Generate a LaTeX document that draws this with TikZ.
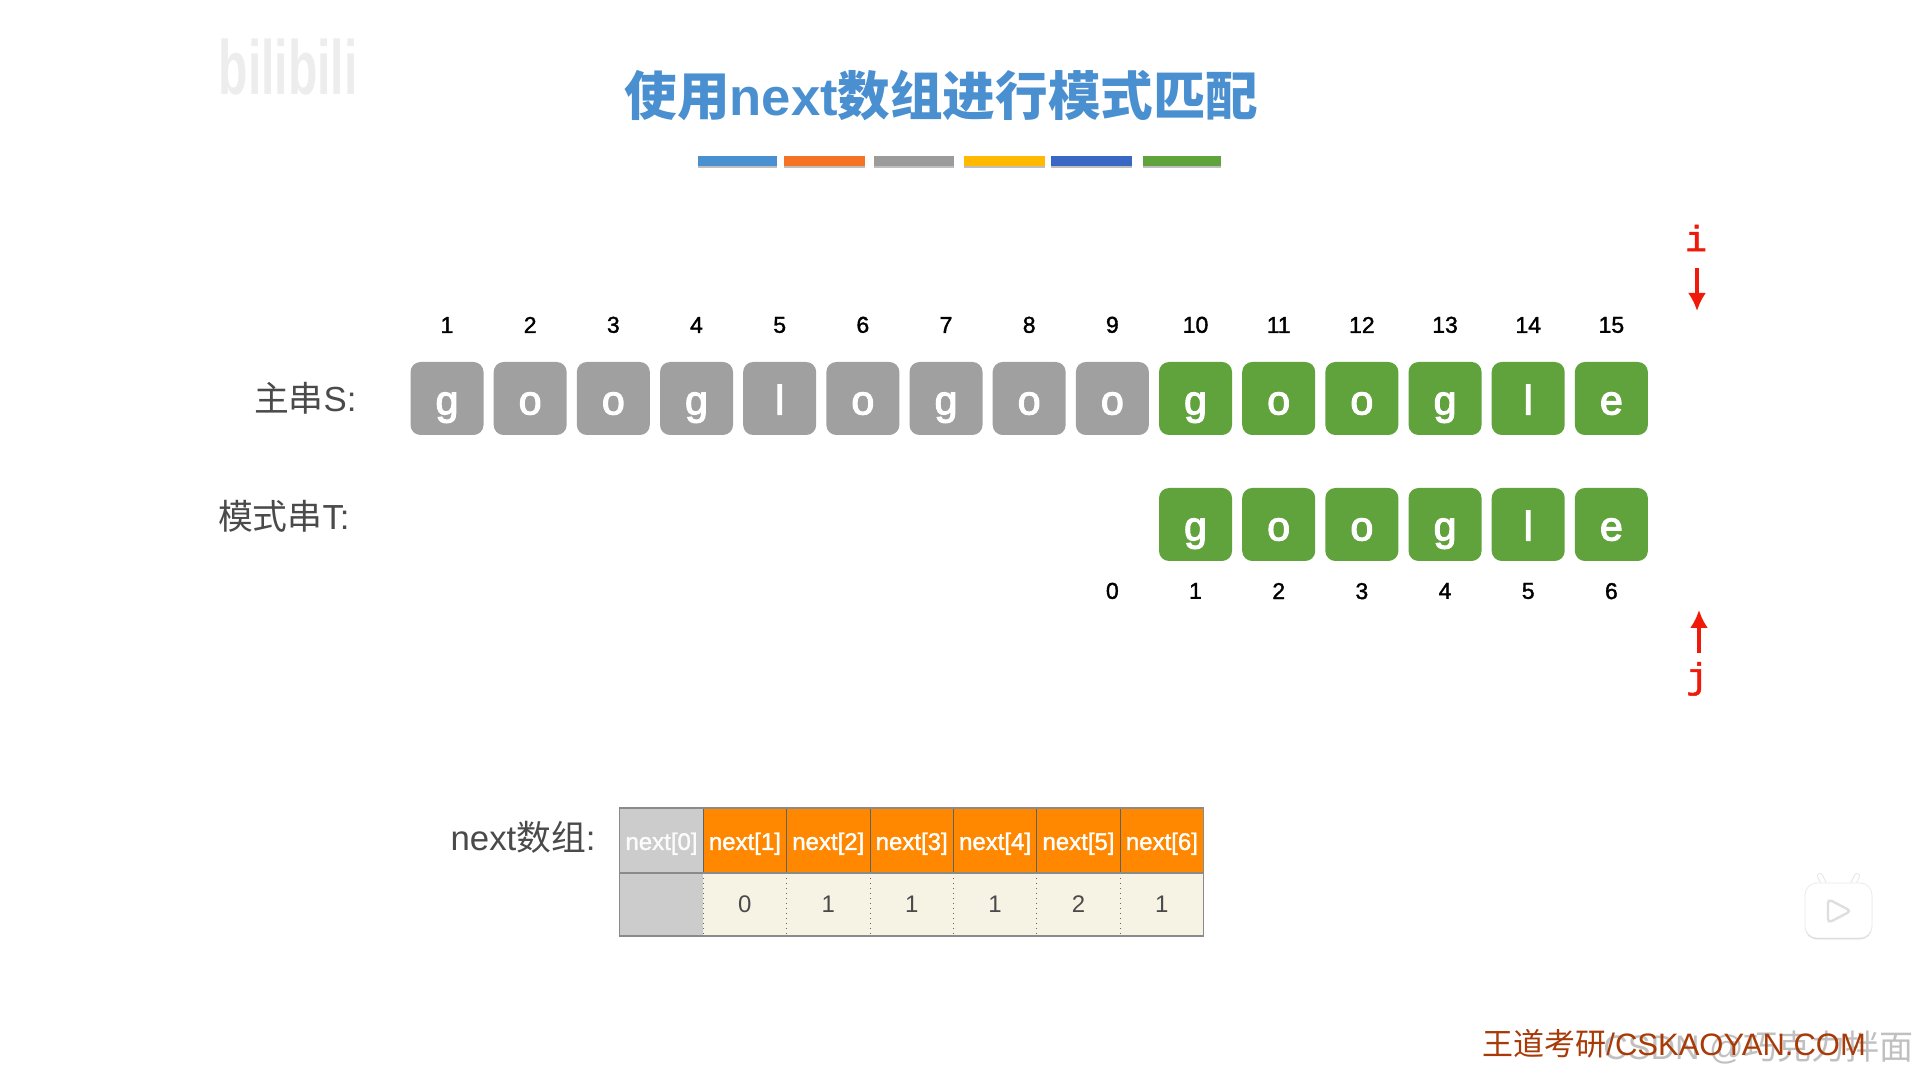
\documentclass[tikz,border=0pt]{standalone}
\usepackage{fontspec}
\setmainfont{Liberation Sans}
\setmonofont{Liberation Mono}
\newfontfamily\cjk{Noto Sans CJK SC}
\newfontfamily\medfont[FakeBold=1.5]{Liberation Sans}
\newfontfamily\charfont[FakeBold=3]{Liberation Sans}
\newfontfamily\ptrfont[FakeBold=1.5]{Liberation Mono}
\usepackage{xcolor}
\usetikzlibrary{arrows.meta}
\usetikzlibrary{positioning}
\usetikzlibrary{shadows}
\definecolor{kmp-title}{HTML}{4A8FD0}
\definecolor{kmp-text}{HTML}{4A4A4A}
\definecolor{kmp-grey}{HTML}{A0A0A0}
\definecolor{kmp-green}{HTML}{60A23C}
\definecolor{kmp-red}{HTML}{F01A0A}
\definecolor{kmp-orange}{HTML}{FF8800}
\definecolor{kmp-empty}{HTML}{CCCCCC}
\definecolor{kmp-cream}{HTML}{F7F3E4}
\definecolor{kmp-frame}{HTML}{8A8A8A}
\definecolor{kmp-foot}{HTML}{A83A08}
\definecolor{kmp-bar2}{HTML}{F47325}
\definecolor{kmp-bar3}{HTML}{9B9B9B}
\definecolor{kmp-bar4}{HTML}{FFB900}
\definecolor{kmp-bar5}{HTML}{3A66C4}
\newcommand{\fsz}[1]{\fontsize{#1}{#1}\selectfont}

\begin{document}
\begin{tikzpicture}[x=0.5pt, y=-0.5pt]

  % Global Style Definitions
  \tikzset{
    charbox/.style={rounded corners=5pt, minimum width=36.5pt, minimum height=36.5pt, inner sep=0pt, outer sep=0pt, text=white, font=\fsz{20.5}\charfont, text height=17.4pt, text depth=1.5pt},
    sbox/.style={charbox, fill=kmp-grey},
    gbox/.style={charbox, fill=kmp-green},
    index/.style={inner sep=0pt, outer sep=0pt, font=\fsz{11.5}\medfont, text=black},
    label/.style={inner sep=0pt, font=\fsz{17.4}, text=kmp-text},
    bar/.style={minimum height=5pt, inner sep=0pt, outer sep=0pt, drop shadow={shadow xshift=0pt, shadow yshift=-1pt, opacity=.5}},
    pointer/.style={-{Latex[width=9pt,length=9pt]}, kmp-red, line width=1.6pt},
    ptrlabel/.style={inner sep=0pt, text=kmp-red, font=\fsz{18}\ptrfont},
    headcell/.style={minimum width=41.7pt, minimum height=32.5pt, inner sep=0pt, outer sep=0pt, fill=kmp-orange, text=white, font=\fsz{12}\medfont, text height=12pt, text depth=2.6pt},
    bodycell/.style={minimum width=41.7pt, minimum height=31.5pt, inner sep=0pt, outer sep=0pt, fill=kmp-cream, text=kmp-text, font=\fsz{12}}
  }

  \useasboundingbox (0,0) rectangle (1919,1079);
  \fill[white] (0,0) rectangle (1919,1079);

  % Title and colour bars
  \node (title) [inner sep=0pt, text=kmp-title, font=\fsz{26.3}\bfseries] at (941.5,96) {{\cjk 使用}next{\cjk 数组进行模式匹配}};
  \node (bar1) [bar, fill=kmp-title, minimum width=39.5pt] at (737.5,161) {};
  \node (bar2) [bar, fill=kmp-bar2, minimum width=40.5pt] at (824.5,161) {};
  \node (bar3) [bar, fill=kmp-bar3, minimum width=40pt] at (914,161) {};
  \node (bar4) [bar, fill=kmp-bar4, minimum width=40.5pt] at (1004,161) {};
  \node (bar5) [bar, fill=kmp-bar5, minimum width=40.5pt] at (1091.5,161) {};
  \node (bar6) [bar, fill=kmp-green, minimum width=39pt] at (1182,161) {};

  % Main string S
  \node (labelS) [label, anchor=east] at (357,398) {{\cjk 主串}S:};
  \foreach \ch [count=\n] in {g,o,o,g,l,o,g,o,o}
    \node (s\n) [sbox] at ({363.83+83.17*\n},398.5) {\ch};
  \foreach \ch [count=\n from 10] in {g,o,o,g,l,e}
    \node (s\n) [gbox] at ({363.83+83.17*\n},398.5) {\ch};
  \foreach \n in {1,...,15}
    \node (up\n) [index, above=14.5pt of s\n] {\n};

  % Pattern string T
  \node (labelT) [label, anchor=east] at (350,516) {{\cjk 模式串}T:};
  \foreach \ch [count=\n, evaluate=\n as \m using int(\n+9)] in {g,o,o,g,l,e} {
    \node (t\n) [gbox, below=26.5pt of s\m] {\ch};
    \node (down\n) [index, below=11pt of t\n] {\n};
  }
  \node (down0) [index] at (s9 |- down1) {0};

  % Pointers i and j
  \node (labeli) [ptrlabel] at (1696,238) {i};
  \coordinate (itail) at (1697,268);
  \coordinate (itip) at (1697,311);
  \draw[pointer] (itail) -- (itip);
  \coordinate (jtail) at (1699,653);
  \coordinate (jtip) at (1699,610);
  \draw[pointer] (jtail) -- (jtip);
  \node (labelj) [ptrlabel] at (1697,679) {j};

  % next table
  \node (labelN) [label, anchor=east] at (596,837) {next{\cjk 数组}:};
  \node (c0) [headcell, fill=kmp-empty, text=white!92!kmp-empty] at (661.5,840.5) {next[0]};
  \node (v0) [bodycell, fill=kmp-empty, below=0pt of c0] {};
  \foreach \val [count=\n, remember=\n as \p (initially 0)] in {0,1,1,1,2,1} {
    \node (c\n) [headcell, right=0pt of c\p] {next[\n]};
    \node (v\n) [bodycell, below=0pt of c\n] {\val};
    \draw[kmp-frame!70!black, line width=.5pt] (c\n.north west) -- (c\n.south west);
    \draw[black!60, line width=.5pt, dotted] (v\n.north west) -- (v\n.south west);
  }
  \draw[kmp-frame, line width=.6pt] (c0.south west) -- (c6.south east);
  \draw[kmp-frame, line width=.6pt] (c0.north west) rectangle (v6.south east);

  % Footer and watermarks
  \node (csdn) [inner sep=0pt, anchor=east, text=black!35, text opacity=.7, font=\fsz{17}] at (1914,1048) {CSDN @{\cjk 巧克力拌面}};
  \node (foot) [inner sep=0pt, anchor=west, text=kmp-foot, font=\fsz{15.5}] at (1482,1044) {{\cjk 王道考研}/CSKAOYAN.COM};
  \node (bili) [inner sep=0pt, text=black!7, font=\fsz{24}\bfseries, yscale=1.6, transform shape] at (288,67) {bilibili};

  % Player icon
  \draw[black!10, line width=3pt, line cap=round] (1828,892) -- (1820,876);
  \draw[black!10, line width=3pt, line cap=round] (1849,892) -- (1857,876);
  \draw[white, line width=2pt, line cap=round] (1828,892) -- (1820,876);
  \draw[white, line width=2pt, line cap=round] (1849,892) -- (1857,876);
  \node (tv) [rounded corners=6pt, fill=white, draw=black!8, line width=.4pt, minimum width=33.5pt, minimum height=27.5pt, drop shadow={shadow xshift=0pt, shadow yshift=-.7pt, opacity=.3}] at (1838.5,910.5) {};
  \draw[black!13, line width=1.2pt, rounded corners=2pt, fill=white] (1828,899) -- (1851,911) -- (1828,923) -- cycle;

\end{tikzpicture}
\end{document}
